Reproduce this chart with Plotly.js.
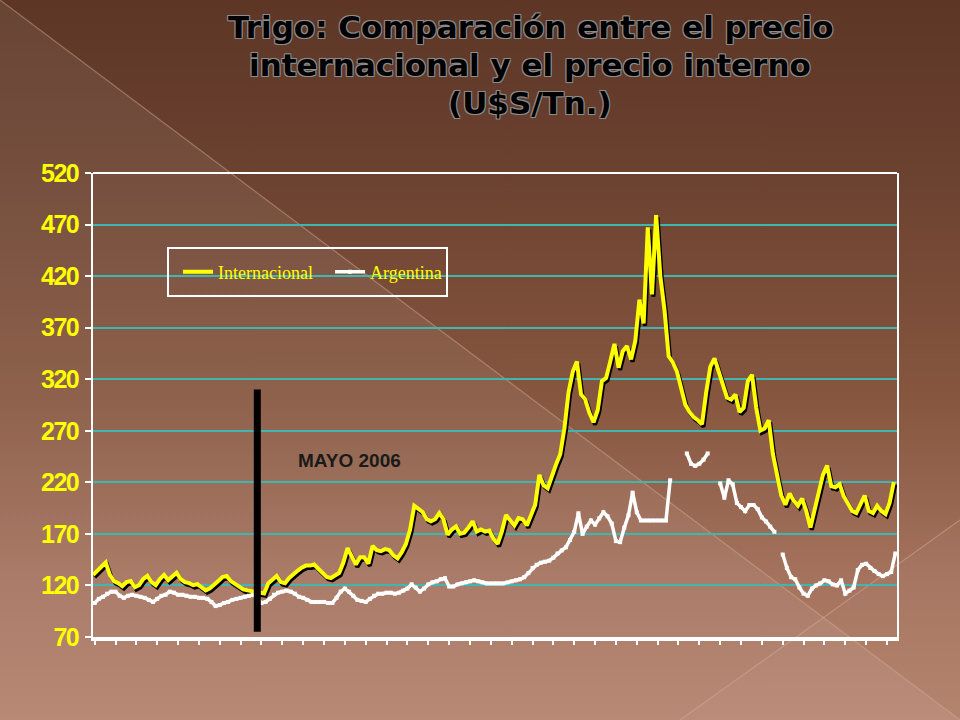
<!DOCTYPE html>
<html>
<head>
<meta charset="utf-8">
<script src="https://cdn.plot.ly/plotly-3.0.1.min.js"></script>
<style>
  html, body { margin: 0; padding: 0; width: 960px; height: 720px; overflow: hidden; }
  body { background: linear-gradient(to bottom, #5d3626 0%, #6c4230 25%, #86563f 55%, #a4725d 80%, #b3806b 100%); position: relative; }
  #bg { position: absolute; left: 0; top: 0; }
  #chart { position: absolute; left: 0; top: 0; width: 960px; height: 720px; }
</style>
</head>
<body>
<svg id="bg" width="960" height="720" viewBox="0 0 960 720">
  <polygon points="0,0 960,720 0,720" fill="#ffffff" fill-opacity="0.07"/>
  <polygon points="960,520 960,720 680,720" fill="#ffffff" fill-opacity="0.03"/>
  <line x1="0" y1="0" x2="960" y2="720" stroke="#d9b29c" stroke-opacity="0.45" stroke-width="1.2"/>
  <line x1="960" y1="520" x2="680" y2="720" stroke="#d9b29c" stroke-opacity="0.45" stroke-width="1.2"/>
</svg>
<div id="chart"></div>
<script>
// Precios semanales del trigo (U$S/Tn.)
const internacional = [
  128,132,137,140,128,122,120,117,121,122,
  116,118,124,127,121,118,124,128,123,126,
  130,124,121,120,118,119,116,113,115,118,
  122,126,127,122,119,116,114,113,112,111,
  110,110,120,124,127,121,120,125,129,132,
  135,137,137,138,134,130,126,125,127,130,
  140,154,146,138,145,145,139,156,152,151,
  153,152,147,144,150,158,172,195,192,189,
  182,180,182,188,182,167,172,175,168,169,
  174,180,170,172,170,171,163,158,170,186,
  181,176,183,182,176,187,196,225,215,212,
  225,235,245,270,305,325,335,303,298,285,
  276,288,316,319,335,352,329,345,350,337,
  355,395,372,465,400,477,418,385,340,334,
  325,310,293,286,281,278,274,305,330,338,
  325,311,300,298,303,286,290,316,322,290,
  268,270,278,245,224,205,196,207,200,195,
  202,190,174,190,206,225,234,214,213,216,
  204,197,190,188,196,205,190,188,195,190,
  187,198,218
];
const argentina = [
  103,107,109,112,114,114,110,108,110,111,
  110,109,108,106,104,107,110,111,114,113,
  111,111,110,109,109,108,108,107,104,100,
  101,103,104,106,107,108,109,110,111,108,
  103,104,107,111,113,114,115,114,112,109,
  108,106,104,104,104,104,103,103,108,114,
  117,114,110,106,105,104,107,110,112,112,
  113,113,112,113,115,117,121,118,114,117,
  121,123,124,126,127,119,119,121,122,123,
  124,125,124,123,122,122,122,122,122,123,
  124,125,126,128,132,137,140,142,143,144,
  147,151,154,157,164,172,190,170,177,183,
  179,185,191,187,180,163,162,176,188,210,
  191,183,183,183,183,183,183,183,222,null,
  null,null,248,238,236,238,242,248,null,null,
  219,205,222,218,200,196,192,198,198,194,
  186,182,177,172,null,150,137,128,126,118,
  112,110,117,120,122,125,124,121,120,125,
  112,115,118,135,140,141,137,134,131,129,
  131,133,151
];
const nombresSeries = ["Internacional", "Argentina"];
const ticksY = [70, 120, 170, 220, 270, 320, 370, 420, 470, 520];
const semanaMayo2006 = 39;
const etiquetaEvento = "MAYO 2006";
const lineasTitulo = ["Trigo: Comparación entre el precio", "internacional y el precio interno", "(U$S/Tn.)"];

const Y_RANGE = [70, 520];
const X_RANGE = [-0.4, 192.4];
const PLOT = { l: 93, r: 63, t: 173, b: 83 };
const plotW = 960 - PLOT.l - PLOT.r, plotH = 720 - PLOT.t - PLOT.b;
// helpers: pixel position in the page -> paper fraction (for decorations only)
const px = (x) => (x - PLOT.l) / plotW;
const py = (y) => (720 - PLOT.b - y) / plotH;
// small pixel offsets for the drop shadow of the yellow line
const dx = 1.5 / (plotW / (X_RANGE[1] - X_RANGE[0]));
const dy = 2.3 / (plotH / (Y_RANGE[1] - Y_RANGE[0]));

const traces = [
  { // shadow of the international line
    y: internacional, type: 'scatter', mode: 'lines', xaxis: 'x', yaxis: 'y',
    line: { color: '#000000', width: 4 }, hoverinfo: 'skip', showlegend: false
  },
  {
    y: internacional, name: nombresSeries[0], type: 'scatter', mode: 'lines',
    xaxis: 'x2', yaxis: 'y2',
    line: { color: '#ffff00', width: 4 }
  },
  {
    y: argentina, name: nombresSeries[1], type: 'scatter', mode: 'lines+markers',
    xaxis: 'x', yaxis: 'y', connectgaps: false,
    line: { color: '#ffffff', width: 3.5 },
    marker: { color: '#ffffff', size: 4, symbol: 'square' }
  }
];

const titleFont = {
  family: '"DejaVu Sans", "Liberation Sans", Arial, sans-serif', size: 31, weight: 'bold', color: '#000000',
  shadow: '-1px -1px 0 #8c8c8c, 1px -1px 0 #8c8c8c, -1px 1px 0 #8c8c8c, 1px 1px 0 #8c8c8c, 0 0 2px #666'
};
const titleCenters = [27, 65, 103];

const layout = {
  width: 960, height: 720,
  paper_bgcolor: 'rgba(0,0,0,0)', plot_bgcolor: 'rgba(0,0,0,0)',
  margin: PLOT,
  showlegend: true,
  legend: {
    orientation: 'h', x: px(178), xanchor: 'left', y: py(272), yanchor: 'middle',
    bgcolor: 'rgba(0,0,0,0)', borderwidth: 0,
    font: { family: '"Liberation Serif", "Times New Roman", serif', size: 18, color: '#ffff00' },
    entrywidth: 107, entrywidthmode: 'pixels', traceorder: 'normal'
  },
  xaxis: {
    range: X_RANGE, showgrid: false, zeroline: false,
    showline: true, linecolor: '#ffffff', linewidth: 4,
    ticks: 'outside', ticklen: 4, tickwidth: 2, tickcolor: '#ffffff',
    tick0: 0, dtick: 5, showticklabels: false
  },
  yaxis: {
    range: Y_RANGE, tickvals: ticksY,
    ticktext: ticksY.map(v => '<span style="letter-spacing:-1.6px">' + v + '</span>'),
    showgrid: true, gridcolor: '#3fb7b0', gridwidth: 2, zeroline: false,
    showline: true, linecolor: '#ffffff', linewidth: 2, mirror: true,
    ticks: 'outside', ticklen: 6, tickwidth: 2, tickcolor: '#ffffff',
    ticklabelstandoff: 2,
    tickfont: { family: '"Liberation Sans Narrow", "Liberation Sans", Arial, sans-serif', size: 25, weight: 'bold', color: '#ffff00' }
  },
  xaxis2: { overlaying: 'x', range: [X_RANGE[0] + dx, X_RANGE[1] + dx], visible: false },
  yaxis2: { overlaying: 'y', range: [Y_RANGE[0] - dy, Y_RANGE[1] - dy], visible: false },
  shapes: [
    { type: 'line', xref: 'paper', yref: 'paper', x0: 0, x1: 1, y0: 1, y1: 1,
      line: { color: '#ffffff', width: 2 } },
    { type: 'rect', xref: 'paper', yref: 'paper', x0: px(168), x1: px(447), y0: py(296), y1: py(248),
      line: { color: '#ffffff', width: 2 }, fillcolor: 'rgba(0,0,0,0)' },
    { type: 'line', xref: 'x', yref: 'y', x0: semanaMayo2006, x1: semanaMayo2006, y0: 75, y1: 310,
      line: { color: '#000000', width: 7 } }
  ],
  annotations: [
    { text: etiquetaEvento, xref: 'x', yref: 'y', x: 61, y: 241.5, showarrow: false,
      font: { family: '"Liberation Sans", Arial, sans-serif', size: 19, weight: 'bold', color: '#1a1a1a' } }
  ].concat(lineasTitulo.map((t, i) => ({
    text: t, xref: 'paper', yref: 'paper', x: px(530), y: py(titleCenters[i]),
    xanchor: 'center', yanchor: 'middle', showarrow: false, font: titleFont
  })))
};

Plotly.newPlot('chart', traces, layout, { displayModeBar: false, staticPlot: true });
</script>
</body>
</html>
